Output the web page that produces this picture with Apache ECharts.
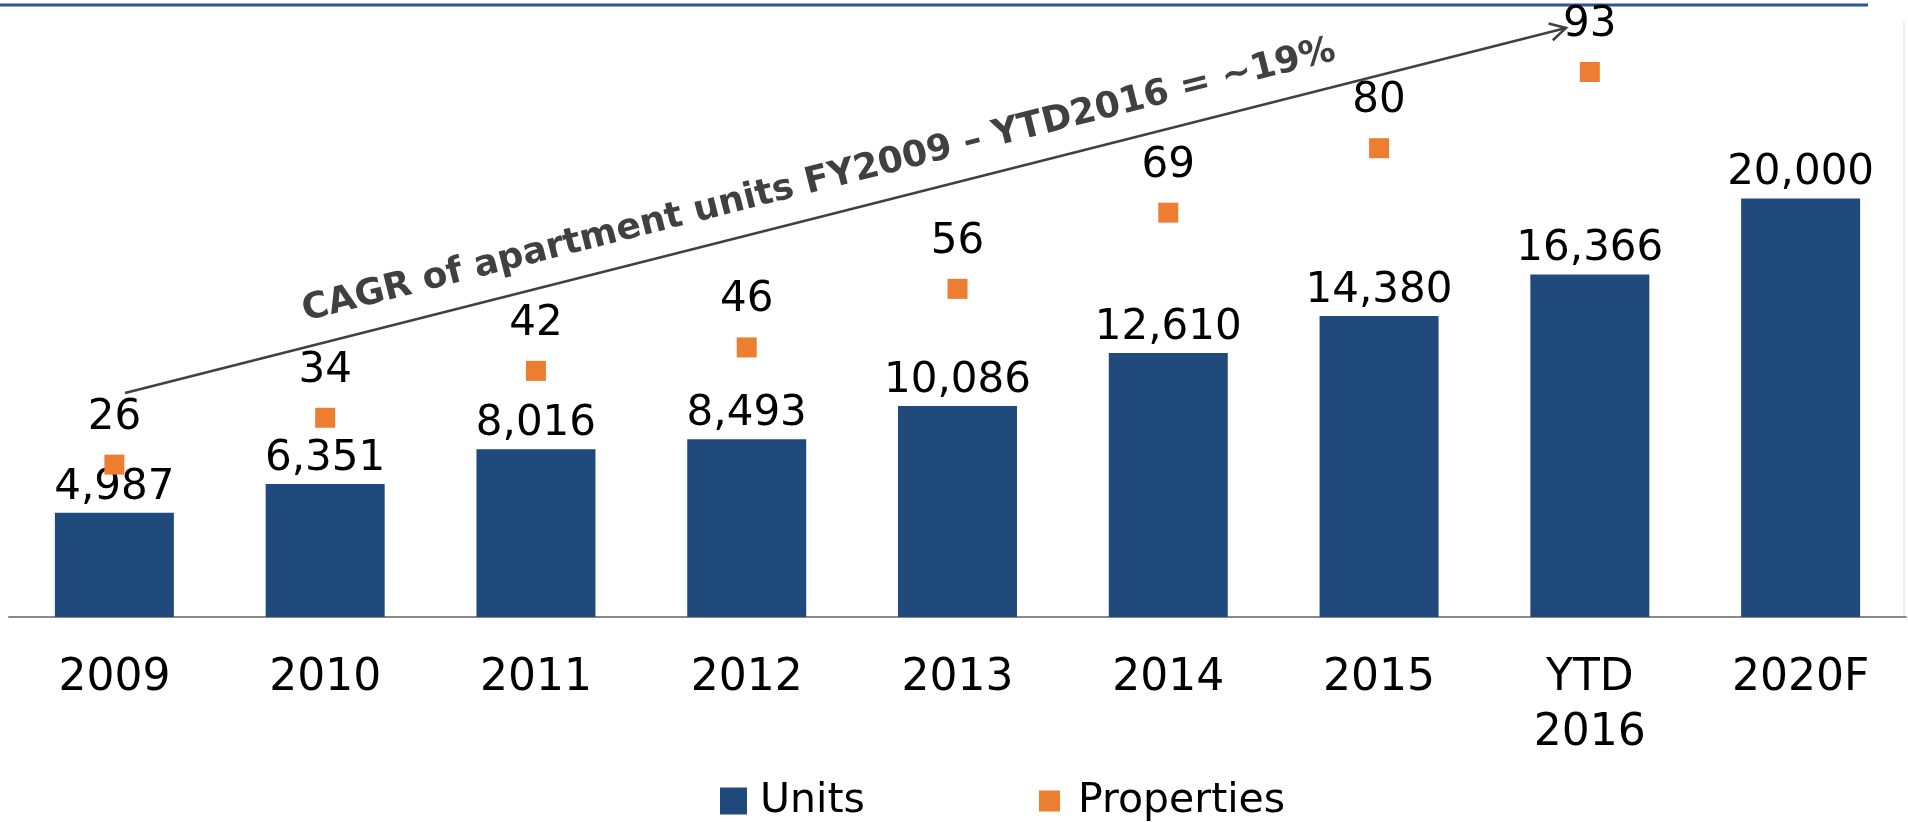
<!DOCTYPE html>
<html>
<head>
<meta charset="utf-8">
<script src="https://cdn.jsdelivr.net/npm/echarts@6/dist/echarts.min.js"></script>
<style>
  html, body { margin: 0; padding: 0; background: #fff; }
  #chart { width: 1908px; height: 822px; }
</style>
</head>
<body>
<div id="chart"></div>
<script>
// values
var years = ['2009', '2010', '2011', '2012', '2013', '2014', '2015', 'YTD\n2016', '2020F'];
var units = [4987, 6351, 8016, 8493, 10086, 12610, 14380, 16366, 20000];
var properties = [26, 34, 42, 46, 56, 69, 80, 93, '-'];
var cagrText = 'CAGR of apartment units FY2009 \u2013 YTD2016 = ~19%';

var FONT = 'DejaVu Sans';

// CAGR arrow (annotation, pixel space)
var arrowFrom = [125, 393];
var arrowTo = [1566, 28];
var ang = Math.atan2(arrowTo[1] - arrowFrom[1], arrowTo[0] - arrowFrom[0]);
var headLen = 18, headAng = 0.5;
var wingA = [arrowTo[0] - headLen * Math.cos(ang - headAng), arrowTo[1] - headLen * Math.sin(ang - headAng)];
var wingB = [arrowTo[0] - headLen * Math.cos(ang + headAng), arrowTo[1] - headLen * Math.sin(ang + headAng)];

window.onload = function(){
	var chart = echarts.init(document.getElementById('chart'));
	var fmt = function(p){ return Number(p.value).toLocaleString('en-US'); };
	chart.setOption({
		animation: false,
		grid: { left: 9, top: 31, width: 1897, height: 586 },
		legend: [
			{
				data: ['Units'], left: 715, top: 774, icon: 'rect',
				itemWidth: 27, itemHeight: 27,
				textStyle: { fontFamily: FONT, fontSize: 41, color: '#000', lineHeight: 44, padding: [0, 0, 0, 8] }
			},
			{
				data: ['Properties'], left: 1034, top: 774, icon: 'rect',
				itemWidth: 21, itemHeight: 21,
				textStyle: { fontFamily: FONT, fontSize: 41, color: '#000', lineHeight: 44, padding: [0, 0, 0, 13] }
			}
		],
		xAxis: {
			type: 'category',
			data: years,
			axisLine: { lineStyle: { color: '#898989', width: 2 } },
			axisTick: { show: false },
			axisLabel: { fontFamily: FONT, fontSize: 44, color: '#000', margin: 34, lineHeight: 55, interval: 0 }
		},
		yAxis: [
			{ type: 'value', min: 0, max: 28000, show: false, splitLine: { show: false } },
			{ type: 'value', min: 0, max: 100, show: false, splitLine: { show: false } }
		],
		series: [
			{
				name: 'Units',
				type: 'bar',
				data: units,
				barWidth: 119,
				itemStyle: { color: '#204A7C' },
				label: { show: true, position: 'top', distance: 4, formatter: fmt, fontFamily: FONT, fontSize: 42, color: '#000' }
			},
			{
				name: 'Properties',
				type: 'scatter',
				yAxisIndex: 1,
				data: properties,
				symbol: 'rect',
				symbolSize: 20,
				itemStyle: { color: '#ED7D31', opacity: 1 },
				label: { show: true, position: 'top', distance: 16, fontFamily: FONT, fontSize: 42, color: '#000' },
				z: 5
			}
		],
		graphic: [
			{ type: 'line', shape: { x1: 0, y1: 5, x2: 1868, y2: 5 }, style: { stroke: '#2F5597', lineWidth: 3 } },
			{ type: 'line', shape: { x1: 1904, y1: 20, x2: 1904, y2: 616 }, style: { stroke: '#E3E3E3', lineWidth: 1 } },
			{ type: 'line', shape: { x1: arrowFrom[0], y1: arrowFrom[1], x2: arrowTo[0], y2: arrowTo[1] }, style: { stroke: '#404040', lineWidth: 2.5 } },
			{ type: 'polyline', shape: { points: [wingA, arrowTo, wingB] }, style: { stroke: '#404040', lineWidth: 2.5, fill: null } },
			{
				type: 'text', x: 819, y: 181, rotation: -ang,
				style: { text: cagrText, fontFamily: FONT, fontWeight: 'bold', fontSize: 36, fill: '#404040', align: 'center', verticalAlign: 'middle' }
			}
		]
	});
};
</script>
</body>
</html>
